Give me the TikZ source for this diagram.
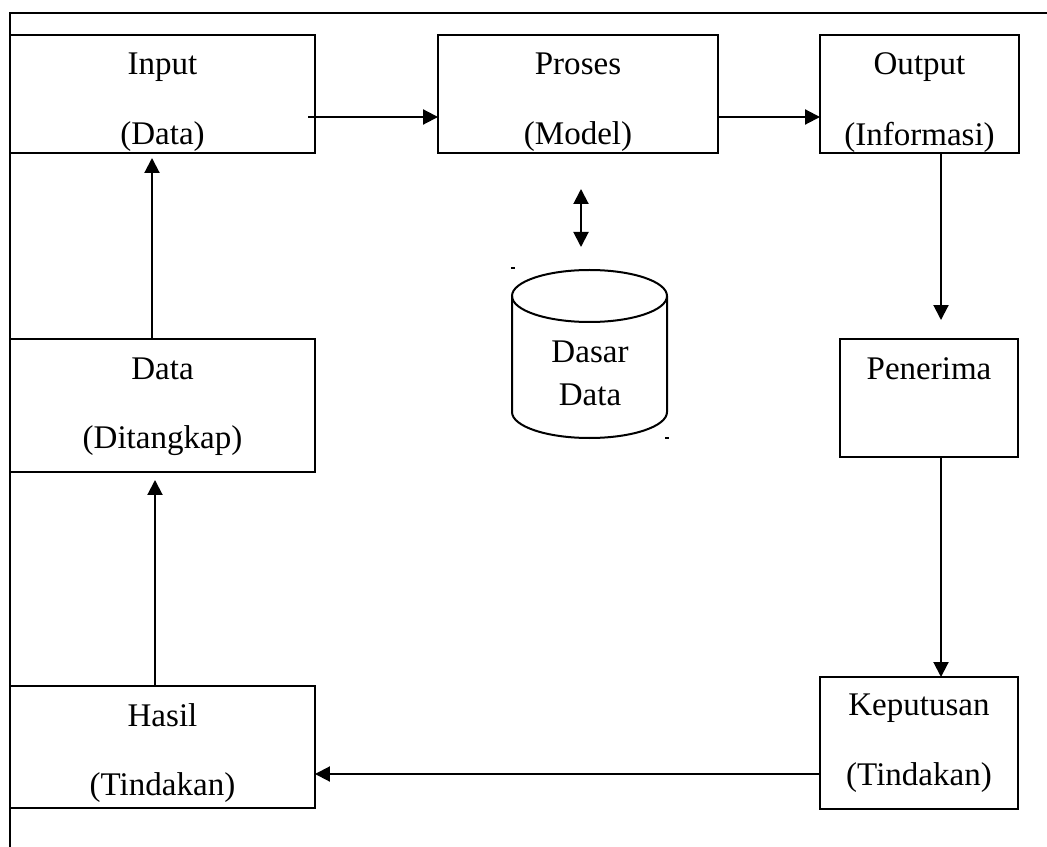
\documentclass[tikz,border=0pt]{standalone}
\usepackage{fontspec}
\setmainfont{Liberation Serif}
\usetikzlibrary{calc, arrows.meta}

\begin{document}
\begin{tikzpicture}[x=0.02cm, y=-0.02cm, line width=0.04cm,
  box/.style={draw, inner sep=0pt, outer sep=0pt},
  lbl/.style={anchor=base, inner sep=0pt, font=\fontsize{18.8}{22}\selectfont},
  arr/.style={-{Triangle[length=0.3cm,width=0.3cm]}}]
\useasboundingbox (0,0) rectangle (1047,847);
\draw (1047,13) -- (10,13) -- (10,847);
% boxes
\node[box, minimum width=6.1cm, minimum height=2.36cm] (input) at (162.5,94) {};
\node[box, minimum width=5.6cm, minimum height=2.36cm] (proses) at (578,94) {};
\node[box, minimum width=3.98cm, minimum height=2.36cm] (output) at (919.5,94) {};
\node[box, minimum width=3.56cm, minimum height=2.36cm] (penerima) at (929,398) {};
\node[box, minimum width=3.96cm, minimum height=2.64cm] (keputusan) at (919,743) {};
\node[box, minimum width=6.1cm, minimum height=2.44cm] (hasil) at (162.5,747) {};
\node[box, minimum width=6.1cm, minimum height=2.66cm] (data) at (162.5,405.5) {};
% texts
\node[lbl] (inputA) at (162.5,75) {Input};
\node[lbl] (inputB) at (162.5,145) {(Data)};
\node[lbl] (prosesA) at (578,75) {Proses};
\node[lbl] (prosesB) at (578,145) {(Model)};
\node[lbl] (outputA) at (919.5,75) {Output};
\node[lbl] (outputB) at (919.5,146) {(Informasi)};
\node[lbl] (penerimaA) at (929,379) {Penerima};
\node[lbl] (keputusanA) at (919,715) {Keputusan};
\node[lbl] (keputusanB) at (919,785) {(Tindakan)};
\node[lbl] (hasilA) at (162.5,726) {Hasil};
\node[lbl] (hasilB) at (162.5,795) {(Tindakan)};
\node[lbl] (dataA) at (162.5,379) {Data};
\node[lbl] (dataB) at (162.5,448) {(Ditangkap)};
% database
\draw (589.5,296) ellipse (77.5 and 26);
\draw (512,296) -- (512,412) arc (180:0:77.5 and 26) -- (667,296);
\node[lbl] (dasarA) at (590,363) {Dasar};
\node[lbl] (dasarB) at (590,405) {Data};
\draw[line width=0.03cm] (511,268) -- (515,268);
\draw[line width=0.03cm] (665,438) -- (669,438);
% connectors
\coordinate (inputOut) at (308,117);
\coordinate (outDown) at (941,153);
\coordinate (dbTop) at (581,189);
\coordinate (dbBot) at (581,247);
\draw[arr] (inputOut) -- (inputOut -| proses.west);
\draw[arr] (proses.east |- inputOut) -- (output.west |- inputOut);
\draw[arr] (outDown) -- ($(outDown |- penerima.north)+(0,-19)$);
\draw[arr] (outDown |- penerima.south) -- (outDown |- keputusan.north);
\draw[arr] (keputusan.west |- 0,774) -- (hasil.east |- 0,774);
\draw[arr] (hasil.north -| 155,0) -- ($(data.south -| 155,0)+(0,8)$);
\draw[arr] (data.north -| 152,0) -- ($(input.south -| 152,0)+(0,5)$);
\draw[{Triangle[length=0.3cm,width=0.3cm]}-{Triangle[length=0.3cm,width=0.3cm]}] (dbTop) -- (dbBot);
\end{tikzpicture}
\end{document}
